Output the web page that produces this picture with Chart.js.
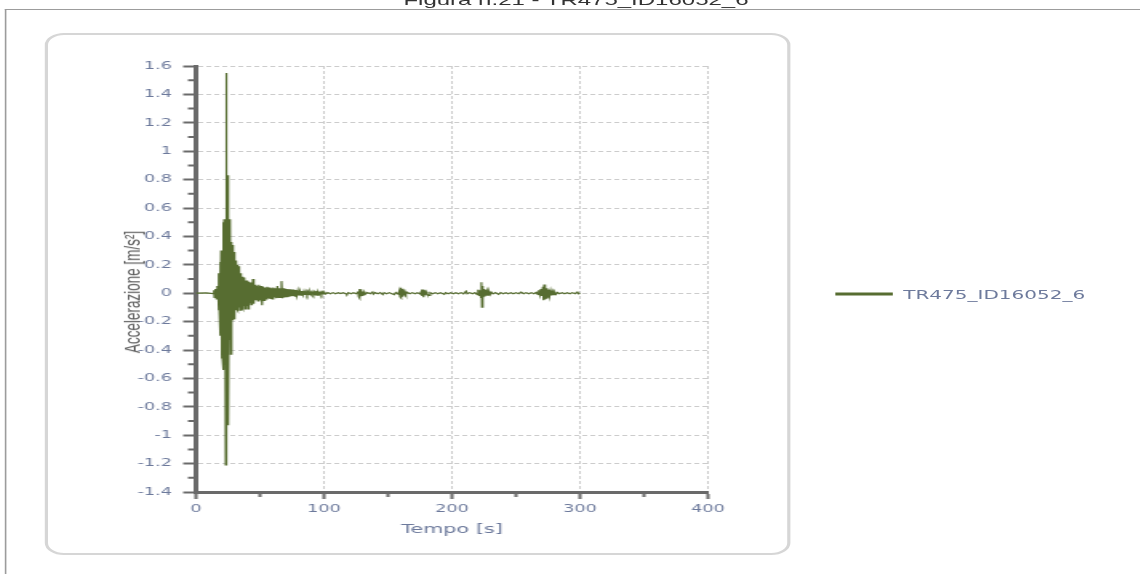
<!DOCTYPE html>
<html lang="it">
<head>
<meta charset="utf-8">
<title>Figura n.21 - TR475_ID16052_6</title>
<script src="https://cdn.jsdelivr.net/npm/chart.js@4"></script>
<style>
  html, body { margin: 0; padding: 0; background: #fff; overflow: hidden; }
  /* la figura originale è stirata in orizzontale */
  #pagina { position: absolute; left: 0; top: 0; width: 712.5px; height: 574px; transform: scaleX(1.6); transform-origin: 0 0; }
  #titolo { position: absolute; left: 0; top: -8px; width: 720px; text-align: center; font: 15px/15px 'Liberation Sans', Arial, sans-serif; color: #333; }
  #cornice { position: absolute; left: 2.5px; top: 9px; width: 800px; height: 700px; border-left: 1px solid #9c9c9c; border-top: 1px solid #9c9c9c; }
  #pannello { position: absolute; left: 28px; top: 33px; width: 466px; height: 522px; box-sizing: border-box; border: 2px solid #d6d6d6; border-radius: 12px; }
  #grafico { position: absolute; left: 0; top: 0; }
  #titoloY { position: absolute; left: 82.5px; top: 292px; transform: translate(-50%, -50%) rotate(-90deg); white-space: nowrap; font: 13.5px 'Liberation Sans', Arial, sans-serif; color: #5c5c5c; }
  #legenda { position: absolute; left: 522px; top: 294px; transform: translateY(-50%); display: flex; align-items: center; font: 12.5px 'DejaVu Sans', Verdana, sans-serif; color: #6d7a9c; white-space: nowrap; }
  #legenda .linea { display: inline-block; width: 36px; height: 3px; margin-right: 6.5px; }
</style>
</head>
<body>
<div id="pagina">
  <div id="titolo">Figura n.21 - TR475_ID16052_6</div>
  <div id="cornice"></div>
  <div id="pannello"></div>
  <canvas id="grafico" width="712" height="574"></canvas>
  <div id="titoloY">Accelerazione [m/s²]</div>
  <div id="legenda"></div>
</div>
<script>
// accelerogramma TR475_ID16052_6
const nomeSerie = 'TR475_ID16052_6';

// tratto iniziale, fermo
const inizioT = [0, 8, 13.6];
const inizioAcc = [0, 0.002, -0.003];

// fase forte: campioni ogni 0.4 s da 14 s
const forteT0 = 14, fortePasso = 0.4;
const forteAcc = [
  0.02, -0.03, 0.03, -0.02, 0.03, -0.04, 0.05, -0.04, 0.05, -0.12,
  0.14, -0.15, 0.22, -0.3, 0.3, -0.46, 0.28, -0.47, 0.5, -0.54,
  0.52, -0.5, 0.52, -1.21, 1.55, -0.55, 0.83, -0.93, 0.8, -0.9,
  0.52, -0.33, 0.5, -0.43, 0.36, -0.2, 0.34, -0.19, 0.3, -0.18,
  0.29, -0.12, 0.23, -0.12, 0.22, -0.11, 0.2, -0.12, 0.19, -0.1,
  0.15, -0.12, 0.14, -0.11, 0.13, -0.1, 0.115, -0.11, 0.1, -0.09,
  0.11, -0.11, 0.09, -0.1, 0.085, -0.09, 0.09, -0.11, 0.08, -0.08,
  0.075, -0.07, 0.07, -0.08, 0.075, -0.07, 0.1, -0.075, 0.07, -0.07
];

// coda: campioni ogni 0.8 s da 46 s
const codaT0 = 46, codaPasso = 0.8;
const codaAcc = [
  0.06, -0.05, 0.05, -0.055, 0.06, -0.05, 0.05, -0.085, 0.045, -0.05,
  0.04, -0.04, 0.045, -0.035, 0.04, -0.04, 0.035, -0.04, 0.04, -0.03,
  0.035, -0.035, 0.05, -0.03, 0.035, -0.03, 0.085, -0.035, 0.035, -0.03,
  0.03, -0.025, 0.03, -0.025, 0.028, -0.022, 0.025, -0.02, 0.025, -0.02,
  0.022, -0.018, 0.018, -0.015, 0.015, -0.014, 0.015, -0.012, 0.013, -0.012,
  0.012, -0.01, 0.011, -0.01, 0.01, -0.009, 0.01, -0.008, 0.008, -0.012,
  0.016, -0.014, 0.008, -0.007, 0.006, -0.01, 0.008, -0.005
];

// parte quieta con piccoli eventi
const quieteT = [
  100.5, 101.5, 103, 105, 107, 109, 111, 113, 115, 117,
  118, 119, 121, 123, 125, 126.6, 127.2, 127.6, 128, 128.4,
  128.8, 129.3, 129.8, 130.4, 131, 131.8, 132.6, 134, 136, 138,
  138.6, 140, 142, 144, 146, 147, 149, 151, 153, 155,
  156, 158, 159, 159.5, 160, 160.5, 161, 161.5, 162, 162.6,
  163.2, 164, 165, 167, 169, 171, 173, 175, 176, 176.6,
  177.2, 177.8, 178.4, 179, 179.8, 180.6, 182, 183, 185, 187,
  189, 191, 193, 194, 195, 197, 199, 201, 203, 205,
  207, 209, 211, 212, 214, 216, 218, 219.5, 220.4, 221,
  221.8, 222.6, 223, 223.4, 223.8, 224.3, 224.8, 225.4, 226, 226.7,
  227.4, 228.2, 229, 229.8, 230.7, 232, 234, 236.4, 238, 240,
  242, 244, 246, 248, 250, 252, 254, 256, 258, 260,
  262, 264, 266, 267, 267.8, 268.6, 269.4, 270.2, 271, 271.5,
  272, 272.5, 273, 273.6, 274.2, 274.8, 275.5, 276.2, 277, 277.8,
  278.6, 279.4, 280.3, 281.3, 282.5, 284, 286, 288, 290, 292,
  294, 296, 298, 299, 300
];
const quieteAcc = [
  0.006, -0.005, 0.004, -0.004, 0.004, -0.004, 0.004, -0.003, 0.004, -0.004,
  -0.009, 0.004, -0.004, 0.004, -0.004, 0.008, -0.025, 0.03, -0.034, 0.028,
  -0.022, 0.018, -0.015, 0.012, -0.01, 0.007, -0.005, 0.004, -0.004, 0.008,
  -0.006, 0.004, -0.004, 0.004, -0.01, 0.004, -0.004, 0.004, -0.004, -0.01,
  0.004, -0.006, 0.02, -0.025, 0.038, -0.033, 0.03, -0.025, 0.02, -0.016,
  0.012, -0.008, 0.006, -0.004, 0.004, -0.004, 0.004, -0.005, 0.012, -0.02,
  0.026, -0.028, 0.02, -0.014, 0.01, -0.006, -0.015, 0.004, -0.004, 0.004,
  -0.004, 0.004, -0.004, -0.008, 0.004, -0.004, 0.004, -0.004, 0.004, -0.004,
  0.004, -0.004, 0.014, -0.004, 0.004, -0.004, 0.004, -0.008, 0.025, -0.015,
  0.02, -0.03, 0.077, -0.099, 0.05, -0.04, 0.03, -0.025, 0.022, -0.018,
  0.016, -0.013, 0.011, -0.009, 0.007, -0.005, 0.004, -0.008, 0.004, -0.004,
  0.004, -0.004, 0.004, -0.004, 0.004, -0.004, 0.008, -0.004, 0.004, -0.004,
  0.004, -0.004, 0.006, -0.008, 0.02, -0.012, 0.03, -0.02, 0.045, -0.05,
  0.061, -0.045, 0.05, -0.035, 0.035, -0.028, 0.025, -0.02, 0.018, -0.015,
  0.013, -0.01, 0.009, -0.007, 0.005, -0.004, 0.004, -0.004, 0.004, -0.004,
  0.004, -0.004, 0.008, -0.004, 0
];

// assi
const tickX = [0, 100, 200, 300, 400];
const tickY = [-1.4, -1.2, -1, -0.8, -0.6, -0.4, -0.2, 0, 0.2, 0.4, 0.6, 0.8, 1, 1.2, 1.4, 1.6];
const minoriX = [50, 150, 250, 350];
const minoriY = [-1.3, -1.1, -0.9, -0.7, -0.5, -0.3, -0.1, 0.1, 0.3, 0.5, 0.7, 0.9, 1.1, 1.3, 1.5];

const coloreSerie = '#576d31';
const coloreAsse = '#6a6a6a';
const coloreTesto = '#6d7a9c';

const punti = [];
inizioT.forEach((t, i) => punti.push({ x: t, y: inizioAcc[i] }));
forteAcc.forEach((v, i) => punti.push({ x: forteT0 + i * fortePasso, y: v }));
codaAcc.forEach((v, i) => punti.push({ x: codaT0 + i * codaPasso, y: v }));
quieteT.forEach((t, i) => punti.push({ x: t, y: quieteAcc[i] }));

// tacche secondarie più corte
const taccheMinori = {
  id: 'taccheMinori',
  afterDraw(chart) {
    const { ctx, chartArea, scales: { x, y } } = chart;
    ctx.save();
    ctx.strokeStyle = coloreAsse;
    ctx.lineWidth = 2;
    ctx.beginPath();
    minoriY.forEach(v => {
      const py = y.getPixelForValue(v);
      ctx.moveTo(chartArea.left, py);
      ctx.lineTo(chartArea.left - 5, py);
    });
    minoriX.forEach(v => {
      const px = x.getPixelForValue(v);
      ctx.moveTo(px, chartArea.bottom);
      ctx.lineTo(px, chartArea.bottom + 5);
    });
    ctx.stroke();
    ctx.restore();
  }
};

Chart.defaults.font.family = "'DejaVu Sans', Verdana, sans-serif";

const grafico = new Chart(document.getElementById('grafico'), {
  type: 'line',
  data: {
    datasets: [{
      label: nomeSerie,
      data: punti,
      borderColor: coloreSerie,
      borderWidth: 1.2,
      pointRadius: 0,
      tension: 0,
      fill: false
    }]
  },
  options: {
    responsive: false,
    animation: false,
    layout: { padding: { left: 70, right: 269.5, top: 66, bottom: 34 } },
    plugins: { legend: { display: false }, tooltip: { enabled: false } },
    scales: {
      x: {
        type: 'linear',
        min: 0,
        max: 400,
        afterBuildTicks: s => { s.ticks = tickX.map(v => ({ value: v })); },
        afterFit: s => { s.height = 48; },
        ticks: { color: coloreTesto, font: { size: 11 }, padding: 4, maxRotation: 0 },
        grid: { color: '#cccccc', lineWidth: 1, tickColor: coloreAsse, tickLength: 7, tickWidth: 2 },
        border: { color: coloreAsse, width: 3, dash: [3, 2] },
        title: { display: true, text: 'Tempo [s]', color: coloreTesto, font: { size: 13 }, padding: { top: 0, bottom: 3 } }
      },
      y: {
        type: 'linear',
        min: -1.4,
        max: 1.6,
        afterBuildTicks: s => { s.ticks = tickY.map(v => ({ value: v })); },
        afterFit: s => { s.width = 52.5; },
        ticks: { color: coloreTesto, font: { size: 11 }, padding: 7, callback: v => String(v) },
        grid: { color: '#cccccc', lineWidth: 1, tickColor: coloreAsse, tickLength: 8, tickWidth: 2 },
        border: { color: coloreAsse, width: 3, dash: [3, 2] }
      }
    }
  },
  plugins: [taccheMinori]
});

// legenda
const legenda = document.getElementById('legenda');
grafico.data.datasets.forEach(ds => {
  const linea = document.createElement('span');
  linea.className = 'linea';
  linea.style.background = ds.borderColor;
  const testo = document.createElement('span');
  testo.textContent = ds.label;
  legenda.append(linea, testo);
});
</script>
</body>
</html>
